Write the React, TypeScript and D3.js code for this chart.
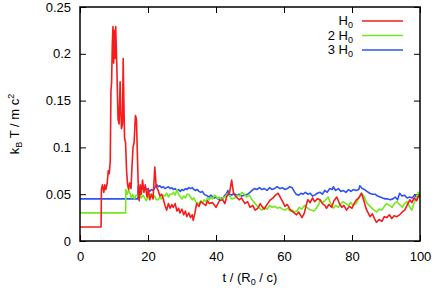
import { useRef, useEffect } from 'react'
import * as d3 from 'd3'

type Pt = [number, number]

// time in R0/c, temperature in kB T / m c^2
const red: Pt[] = [
  [0, 0.015], [6.2, 0.015], [6.3, 0.055], [6.6, 0.06], [7, 0.052], [7.3, 0.06], [7.6, 0.055], [8, 0.062],
  [8.3, 0.075], [8.6, 0.072], [8.9, 0.085], [9.1, 0.16], [9.3, 0.17], [9.5, 0.21], [9.7, 0.229], [9.9, 0.19],
  [10.1, 0.225], [10.3, 0.195], [10.5, 0.229], [10.8, 0.19], [11, 0.16], [11.2, 0.13], [11.5, 0.125], [11.8, 0.17],
  [12, 0.14], [12.2, 0.12], [12.5, 0.125], [12.7, 0.195], [12.9, 0.15], [13.1, 0.11], [13.4, 0.105], [13.7, 0.075],
  [14, 0.06], [14.3, 0.055], [14.6, 0.062], [15, 0.056], [15.3, 0.08], [15.6, 0.1], [15.9, 0.105], [16.3, 0.134],
  [16.6, 0.13], [16.9, 0.09], [17.2, 0.05], [17.4, 0.043], [17.7, 0.06], [18, 0.05], [18.4, 0.065], [18.8, 0.052],
  [19.2, 0.06], [19.7, 0.047], [20.1, 0.056], [20.5, 0.044], [21, 0.05], [21.5, 0.045], [22, 0.079], [22.4, 0.058],
  [23, 0.054], [23.5, 0.048], [24, 0.05], [24.5, 0.045], [25, 0.038], [25.5, 0.033], [26, 0.04], [26.5, 0.035],
  [27, 0.039], [27.4, 0.036], [28, 0.04], [28.5, 0.032], [29, 0.035], [29.4, 0.03], [30, 0.034], [30.5, 0.028],
  [31, 0.032], [31.4, 0.026], [32, 0.03], [32.5, 0.025], [33, 0.028], [33.3, 0.022], [33.8, 0.03], [34.3, 0.04],
  [35, 0.037], [35.5, 0.042], [36.3, 0.04], [37, 0.038], [37.5, 0.043], [38, 0.04], [39, 0.041], [40, 0.036],
  [41, 0.043], [42, 0.044], [42.6, 0.04], [43.2, 0.048], [44, 0.052], [44.6, 0.065], [45.2, 0.05], [46, 0.047],
  [46.8, 0.044], [47.5, 0.046], [48.5, 0.04], [49.3, 0.042], [50, 0.036], [50.8, 0.038], [51.5, 0.033], [52.3, 0.035],
  [53, 0.04], [53.5, 0.037], [54.2, 0.034], [55, 0.039], [55.4, 0.041], [56, 0.044], [56.8, 0.046], [57.5, 0.049],
  [58.3, 0.051], [59, 0.046], [59.6, 0.042], [60.3, 0.037], [61, 0.039], [61.7, 0.034], [62.3, 0.032], [63, 0.03],
  [63.7, 0.028], [64.3, 0.031], [65.3, 0.025], [66, 0.03], [66.5, 0.038], [67, 0.044], [67.7, 0.041], [68.4, 0.046],
  [69, 0.042], [69.8, 0.045], [70.6, 0.044], [71.3, 0.04], [72, 0.038], [72.5, 0.035], [73.2, 0.039], [74, 0.036],
  [74.7, 0.043], [75.5, 0.047], [76.3, 0.04], [77, 0.036], [77.6, 0.038], [78.4, 0.033], [79.2, 0.037], [80, 0.035],
  [80.6, 0.04], [81.3, 0.044], [82, 0.046], [82.8, 0.051], [83.5, 0.043], [84.2, 0.034], [85.3, 0.026], [86, 0.029],
  [86.6, 0.024], [87.2, 0.02], [88, 0.023], [88.8, 0.021], [89.5, 0.026], [90.2, 0.025], [91, 0.028], [91.7, 0.024],
  [92.4, 0.027], [93.2, 0.026], [94, 0.028], [94.8, 0.031], [95.5, 0.033], [96.2, 0.038], [97, 0.044], [97.6, 0.041],
  [98.3, 0.046], [99, 0.043], [99.6, 0.048], [100, 0.047],
]

const green: Pt[] = [
  [0, 0.03], [13.4, 0.03], [13.5, 0.055], [13.9, 0.05], [14.3, 0.054], [14.7, 0.051], [15.1, 0.046], [15.5, 0.05],
  [16, 0.045], [16.5, 0.049], [17, 0.048], [17.5, 0.052], [18, 0.046], [18.5, 0.049], [19, 0.046], [19.5, 0.043],
  [20, 0.047], [20.5, 0.05], [21, 0.05], [21.5, 0.046], [22, 0.048], [22.5, 0.044], [23, 0.044], [23.5, 0.047],
  [24, 0.045], [24.5, 0.049], [25, 0.048], [25.5, 0.051], [26, 0.047], [26.5, 0.05], [27, 0.05], [27.5, 0.052],
  [28, 0.049], [28.5, 0.055], [29, 0.05], [29.5, 0.047], [30, 0.045], [30.5, 0.048], [31, 0.046], [31.5, 0.05],
  [32, 0.05], [32.5, 0.047], [33, 0.044], [33.5, 0.046], [34, 0.042], [34.5, 0.041], [35, 0.04], [35.5, 0.043],
  [36, 0.041], [36.5, 0.044], [37, 0.042], [37.5, 0.046], [38, 0.044], [38.5, 0.047], [39, 0.045], [39.5, 0.049],
  [40, 0.048], [40.5, 0.045], [41, 0.047], [41.5, 0.044], [42, 0.046], [42.6, 0.047], [43.2, 0.05], [44, 0.048],
  [44.6, 0.045], [45.6, 0.046], [46.4, 0.049], [47, 0.048], [47.6, 0.052], [48.3, 0.05], [49, 0.047], [49.8, 0.049],
  [50.6, 0.044], [51.3, 0.041], [52, 0.038], [52.8, 0.035], [53.5, 0.033], [54.2, 0.036], [55, 0.034], [55.8, 0.038],
  [56.5, 0.036], [57.4, 0.037], [58, 0.035], [58.8, 0.036], [59.5, 0.034], [60.3, 0.033], [61, 0.035], [61.8, 0.032],
  [62.5, 0.033], [63, 0.031], [63.8, 0.032], [64.5, 0.036], [65.2, 0.034], [66, 0.038], [66.7, 0.036], [67.4, 0.034],
  [68, 0.033], [68.8, 0.032], [69.5, 0.035], [70.2, 0.039], [70.6, 0.044], [71.3, 0.041], [72, 0.043], [73, 0.047],
  [73.6, 0.041], [74.5, 0.035], [75.2, 0.038], [76, 0.036], [76.7, 0.04], [77.4, 0.042], [78.2, 0.04], [79, 0.038],
  [79.6, 0.041], [80.4, 0.038], [81.2, 0.04], [82, 0.046], [82.8, 0.051], [83.5, 0.048], [84.3, 0.041], [85.3, 0.037],
  [86.2, 0.034], [87.2, 0.031], [88, 0.034], [88.8, 0.033], [89.5, 0.037], [90.2, 0.04], [91, 0.038], [91.8, 0.036],
  [92.5, 0.04], [93.2, 0.042], [94, 0.039], [94.8, 0.036], [95.5, 0.04], [96.2, 0.042], [97, 0.036], [97.6, 0.033],
  [98.2, 0.04], [99, 0.047], [99.5, 0.052], [100, 0.05],
]

const blue: Pt[] = [
  [0, 0.045], [17, 0.045], [17.1, 0.058], [17.5, 0.057], [18, 0.055], [18.5, 0.056], [19, 0.054], [19.5, 0.056],
  [20, 0.055], [20.5, 0.053], [21, 0.055], [21.5, 0.054], [22, 0.057], [22.6, 0.06], [23, 0.058], [23.5, 0.059],
  [24, 0.057], [24.5, 0.058], [25, 0.056], [25.5, 0.057], [26, 0.058], [26.5, 0.056], [27, 0.057], [27.5, 0.055],
  [28, 0.056], [28.5, 0.054], [29, 0.055], [29.5, 0.053], [30, 0.055], [30.5, 0.054], [31, 0.056], [31.5, 0.055],
  [32, 0.057], [32.5, 0.056], [33, 0.057], [33.5, 0.055], [34, 0.054], [34.5, 0.055], [35, 0.053], [35.5, 0.052],
  [36, 0.053], [36.5, 0.05], [37, 0.049], [37.5, 0.048], [38, 0.047], [38.5, 0.049], [39, 0.047], [39.5, 0.046],
  [40, 0.047], [40.5, 0.045], [41, 0.044], [41.5, 0.046], [42, 0.045], [42.6, 0.049], [43, 0.05], [43.5, 0.054],
  [44, 0.05], [44.6, 0.049], [45.3, 0.051], [46, 0.049], [46.8, 0.05], [47.5, 0.048], [48.5, 0.049], [49.3, 0.05],
  [50, 0.052], [50.6, 0.054], [51.3, 0.056], [52, 0.055], [52.8, 0.057], [53.5, 0.055], [54.2, 0.056], [55, 0.054],
  [55.8, 0.057], [56.5, 0.055], [57.2, 0.056], [58, 0.058], [58.8, 0.056], [59.5, 0.057], [60.3, 0.055], [61, 0.056],
  [61.7, 0.058], [62.4, 0.057], [63, 0.053], [63.6, 0.05], [64.3, 0.049], [65, 0.051], [65.6, 0.05], [66.3, 0.052],
  [67, 0.05], [67.7, 0.051], [68.4, 0.048], [69, 0.049], [69.8, 0.051], [70.6, 0.052], [71.3, 0.05], [72, 0.054],
  [72.7, 0.052], [73.5, 0.056], [74.2, 0.055], [74.5, 0.058], [75.2, 0.054], [76, 0.056], [76.7, 0.053], [77.4, 0.054],
  [78.2, 0.052], [79, 0.055], [79.7, 0.053], [80.4, 0.055], [81.2, 0.054], [82, 0.055], [82.3, 0.059], [83, 0.056],
  [83.7, 0.055], [84.4, 0.053], [85.2, 0.051], [86, 0.05], [86.8, 0.05], [87.5, 0.048], [88.3, 0.047], [89, 0.046],
  [89.8, 0.045], [90.5, 0.045], [91.2, 0.044], [92, 0.045], [92.7, 0.047], [93.4, 0.044], [94, 0.051], [94.7, 0.048],
  [95.4, 0.049], [96.2, 0.046], [97, 0.047], [97.7, 0.046], [98.4, 0.049], [99.2, 0.046], [100, 0.051],
]

const seriesLabels = [['', 'H', '0'], ['2 ', 'H', '0'], ['3 ', 'H', '0']]
const seriesColors = ['#f51c1c', '#74e81c', '#2f52f2']
const xTicks = [0, 20, 40, 60, 80, 100]
const yTicks = [0, 0.05, 0.1, 0.15, 0.2, 0.25]

const FONT = '"Liberation Sans", Arial, Helvetica, sans-serif'

const App = () => {
  const svgRef = useRef<SVGSVGElement>(null)

  useEffect(() => {
    const margin = { top: 7, right: 15, bottom: 50, left: 80 }
    const W = 435, H = 291
    const width = W - margin.left - margin.right
    const height = H - margin.top - margin.bottom

    d3.select(svgRef.current).selectAll('*').remove()

    const x = d3.scaleLinear().domain([0, 100]).range([0, width])
    const y = d3.scaleLinear().domain([0, 0.25]).range([height, 0])

    const svg = d3.select(svgRef.current)
      .attr('width', W)
      .attr('height', H)
      .style('font-family', FONT)
      .append('g')
      .attr('transform', `translate(${margin.left},${margin.top})`)

    const fmt = (d: number) => String(+d.toFixed(2))

    // axes, ticks pointing inward on all four sides
    const styleAxis = (g: any) => {
      g.select('.domain').remove()
      g.selectAll('line').attr('stroke', '#000').attr('stroke-width', 1)
      g.selectAll('text').attr('font-size', 13).attr('font-family', FONT).attr('fill', '#000')
    }
    svg.append('g').attr('transform', `translate(0,${height})`)
      .call(d3.axisBottom(x).tickValues(xTicks).tickSize(-6).tickPadding(11).tickFormat(d => String(d)))
      .call(styleAxis)
    svg.append('g')
      .call(d3.axisTop(x).tickValues(xTicks).tickSize(-6).tickFormat(() => ''))
      .call(styleAxis)
    svg.append('g')
      .call(d3.axisLeft(y).tickValues(yTicks).tickSize(-6).tickPadding(9).tickFormat(d => fmt(+d)))
      .call(styleAxis)
    svg.append('g').attr('transform', `translate(${width},0)`)
      .call(d3.axisRight(y).tickValues(yTicks).tickSize(-6).tickFormat(() => ''))
      .call(styleAxis)

    svg.append('defs').append('clipPath').attr('id', 'clip')
      .append('rect').attr('width', width).attr('height', height)

    const line = d3.line<Pt>().x(d => x(d[0])).y(d => y(d[1]))
    const all = [red, green, blue]
    // draw blue first so red stays on top like the original
    ;[2, 1, 0].forEach(i => {
      svg.append('path')
        .datum(all[i])
        .attr('clip-path', 'url(#clip)')
        .attr('fill', 'none')
        .attr('stroke', seriesColors[i])
        .attr('stroke-width', 1.6)
        .attr('stroke-linejoin', 'round')
        .attr('d', line)
    })

    // frame
    svg.append('rect')
      .attr('width', width).attr('height', height)
      .attr('fill', 'none').attr('stroke', '#000').attr('stroke-width', 1.5)

    // legend
    const leg = svg.append('g').attr('transform', `translate(${353 - margin.left},0)`)
    seriesLabels.forEach((lab, i) => {
      const ly = 14 + i * 14.5
      const t = leg.append('text')
        .attr('x', 0).attr('y', ly + 4)
        .attr('text-anchor', 'end')
        .attr('font-size', 13)
      t.append('tspan').text(lab[0] + lab[1])
      t.append('tspan').attr('font-size', 9).attr('dy', 3).text(lab[2])
      leg.append('line')
        .attr('x1', 9).attr('x2', 50)
        .attr('y1', ly).attr('y2', ly)
        .attr('stroke', seriesColors[i]).attr('stroke-width', 1.6)
    })

    // axis titles
    const xt = svg.append('text')
      .attr('x', width / 2).attr('y', height + 41)
      .attr('text-anchor', 'middle').attr('font-size', 13)
    xt.append('tspan').text('t / (R')
    xt.append('tspan').attr('font-size', 9).attr('dy', 3).text('0')
    xt.append('tspan').attr('dy', -3).text(' / c)')

    const yt = svg.append('text')
      .attr('transform', `translate(${19 - margin.left},${height / 2}) rotate(-90)`)
      .attr('text-anchor', 'middle').attr('font-size', 13)
    yt.append('tspan').text('k')
    yt.append('tspan').attr('font-size', 9).attr('dy', 3).text('B')
    yt.append('tspan').attr('dy', -3).text(' T / m c')
    yt.append('tspan').attr('font-size', 9).attr('dy', -5).text('2')
  }, [])

  return (
    <svg ref={svgRef} style={{ position: 'absolute', left: 0, top: 0 }}></svg>
  )
}
export default App
